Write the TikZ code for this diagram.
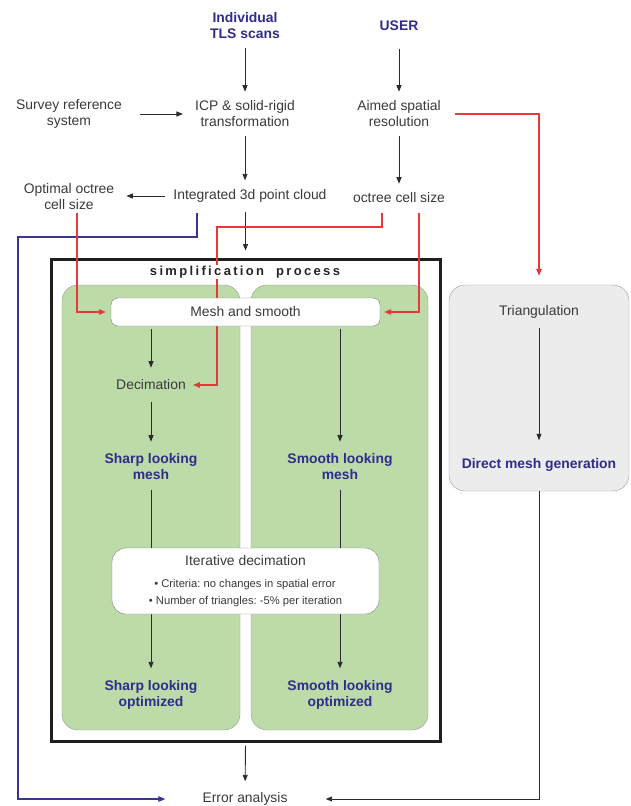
\documentclass[tikz,border=0pt]{standalone}
\usepackage{fontspec}
\setmainfont{Liberation Sans}
\newfontfamily\spacedsans[LetterSpace=18,Ligatures=NoCommon]{Liberation Sans}
\usetikzlibrary{arrows.meta,calc}
\definecolor{flowgrey}{HTML}{3A3A3A}
\definecolor{arrowgrey}{HTML}{2B2B2B}
\definecolor{flowblue}{HTML}{2F2C8A}
\definecolor{linkblue}{HTML}{3A3492}
\definecolor{linkred}{HTML}{E5383B}
\definecolor{panelgreen}{HTML}{BDDBA9}
\definecolor{panelline}{HTML}{8E9A88}
\definecolor{trigrey}{HTML}{EBECEB}
\definecolor{boxline}{HTML}{7E7E7E}
\pgfdeclarelayer{panels}
\pgfdeclarelayer{links}
\pgfsetlayers{panels,links,main}
\frenchspacing

\begin{document}
\begin{tikzpicture}[x=1pt,y=-1pt,
  lbl/.style={inner sep=0pt,align=center,text=flowgrey,
              font=\fontsize{13.9}{16}\selectfont},
  ttl/.style={lbl,text=flowblue,font=\fontsize{13.9}{16}\selectfont\bfseries},
  small/.style={lbl,font=\fontsize{11.2}{13}\selectfont},
  simp/.style={inner sep=1pt,fill=white,text=black!85,
               font=\fontsize{13}{15}\spacedsans\bfseries},
  frame/.style={draw=black!88,line width=3pt,minimum width=389pt,minimum height=482pt},
  panel/.style={draw=panelline,fill=panelgreen,rounded corners=16pt,
                minimum height=445pt},
  tribox/.style={draw=boxline!80,fill=trigrey,rounded corners=16pt,
                 minimum width=180pt,minimum height=206pt},
  meshbox/.style={lbl,draw=boxline,fill=white,rounded corners=7pt,
                  minimum width=269pt,minimum height=28pt},
  iterbox/.style={draw=boxline,fill=white,rounded corners=14pt,
                  minimum width=267pt,minimum height=66pt},
  arr/.style={-{Stealth[length=6.5pt,width=5pt,inset=0pt]},line width=0.9pt,
              arrowgrey,shorten <=9pt,shorten >=9pt},
  link/.style={line width=0.9pt,arrowgrey},
  redlink/.style={-{Stealth[length=7pt,width=5.6pt,inset=0pt]},line width=1.2pt,linkred},
  bluelink/.style={-{Stealth[length=7pt,width=5.6pt,inset=0pt]},line width=1.2pt,linkblue}]
  \useasboundingbox (0,0) rectangle (630,806);

  \begin{pgfonlayer}{panels}
    \node[frame] (sp) at (245.5,500) {};
    \node[panel,minimum width=178pt] (lp) at (151,507.5) {};
    \node[panel,minimum width=177pt] (rp) at (339.5,507.5) {};
    \node[tribox] (tb) at (539,388) {};
  \end{pgfonlayer}

  % inputs
  \node[ttl] (scans) at (245,26) {Individual\\TLS scans};
  \node[ttl] (user) at (399,26) {USER};
  \node[lbl] (survey) at (69,114) {Survey reference\\system};
  \node[lbl] (icp) at (245,114) {ICP \& solid-rigid\\transformation};
  \node[lbl] (aimed) at (399,114) {Aimed spatial\\resolution};
  \node[lbl] (cloud) at (250,196) {Integrated 3d point cloud};
  \node[lbl] (optimal) at (69,197) {Optimal octree\\cell size};
  \node[lbl] (octree) at (399,198) {octree cell size};

  % simplification
  \node[simp] (simp) at (245,272) {simplification\hspace{6pt} process};
  \node[meshbox] (mesh) at (245.5,312) {Mesh and smooth};
  \node[lbl] (decim) at (151,385) {Decimation};
  \node[ttl] (sharp) at (151,467) {Sharp looking\\mesh};
  \node[ttl] (smooth) at (340,467) {Smooth looking\\mesh};
  \node[iterbox] (iter) at (245.5,581) {};
  \node[lbl] (itertitle) at (245.5,561) {Iterative decimation};
  \node[small] (crit) at (245,585) {• Criteria: no changes in spatial error};
  \node[small] (ntri) at (245.5,602) {• Number of triangles: -5\% per iteration};
  \node[ttl] (sharpopt) at (151,695) {Sharp looking\\optimized};
  \node[ttl] (smoothopt) at (340,695) {Smooth looking\\optimized};

  % direct way
  \node[lbl] (tri) at (539,312) {Triangulation};
  \node[ttl] (direct) at (539,465) {Direct mesh generation};
  \node[lbl] (err) at (245,799) {Error analysis};

  \begin{pgfonlayer}{links}
    \draw[arr] (scans) -- (icp);
    \draw[arr,shorten <=18pt] (user) -- (aimed);
    \draw[arr,shorten <=18pt,shorten >=12pt] (survey) -- (icp);
    \draw[arr] (icp.south) -- (icp.south |- cloud.north);
    \draw[arr] (aimed) -- (octree);
    \draw[arr,shorten <=8pt,shorten >=12pt] (cloud.west) -- (cloud.west -| optimal.east);
    \draw[arr,shorten >=7pt] (cloud.south -| sp.north) -- (sp.north);
    \draw[arr,shorten <=3pt,shorten >=12pt] (mesh.south -| decim) -- (decim);
    \draw[arr,shorten <=12pt,shorten >=12pt] (decim) -- (sharp);
    \draw[arr,shorten <=3pt,shorten >=12pt] (mesh.south -| smooth) -- (smooth);
    \draw[link,shorten <=10pt] (sharp) -- (sharp |- iter.north);
    \draw[link,shorten <=10pt] (smooth) -- (smooth |- iter.north);
    \draw[arr,shorten <=0pt,shorten >=12pt] (iter.south -| sharpopt) -- (sharpopt);
    \draw[arr,shorten <=0pt,shorten >=12pt] (iter.south -| smoothopt) -- (smoothopt);
    \draw[arr,shorten <=3pt,shorten >=11pt] (sp.south) -- (err);
    \draw[arr,shorten >=18pt] (tri) -- (direct);
    \draw[arr,shorten <=0pt,shorten >=38pt] (tb.south) |- (err.east);
    \draw[bluelink,shorten >=37pt] ([shift={(-53,17)}]cloud.center) |- (18,237) |- (err.west);
    \draw[redlink,shorten >=5pt] ([shift={(8,16)}]optimal.center) |- (mesh.west);
    \draw[redlink,shorten >=7pt] ([shift={(-17,15)}]octree.center) |- (217,227) |- (decim.east);
    \draw[redlink,shorten >=4pt] ([shift={(20,15)}]octree.center) |- (mesh.east);
    \draw[redlink,shorten <=14pt,shorten >=9pt] (aimed.east) -| (tb.north);
  \end{pgfonlayer}
\end{tikzpicture}
\end{document}
